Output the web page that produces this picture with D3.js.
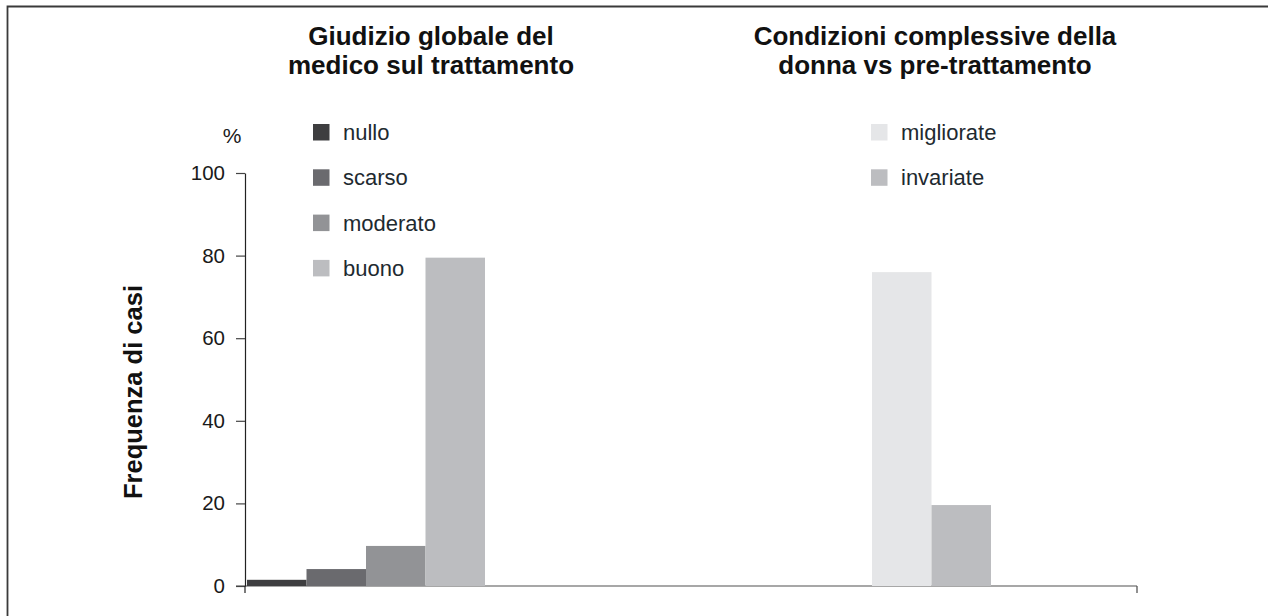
<!DOCTYPE html>
<html>
<head>
<meta charset="utf-8">
<script src="https://cdn.jsdelivr.net/npm/d3@7"></script>
<style>
  html, body { margin: 0; padding: 0; background: #fff; }
  svg { display: block; }
</style>
</head>
<body>
<svg id="chart"></svg>
<script>
// dati
const groups = ["Giudizio globale del medico sul trattamento", "Condizioni complessive della donna vs pre-trattamento"];
const titleLines = [["Giudizio globale del", "medico sul trattamento"], ["Condizioni complessive della", "donna vs pre-trattamento"]];
const giudizioLabels = ["nullo", "scarso", "moderato", "buono"];
const giudizioValues = [1.5, 4.1, 9.7, 79.5];
const condizioniLabels = ["migliorate", "invariate"];
const condizioniValues = [76, 19.6];
const yTicks = [0, 20, 40, 60, 80, 100];

const colors = {
    nullo: "#3e3e40", scarso: "#6a6a6e", moderato: "#929396", buono: "#bcbdc0",
    migliorate: "#e5e6e8", invariate: "#bcbdc0"
};

const width = 1268, height = 616;
const svg = d3.select("#chart").attr("width", width).attr("height", height)
    .style("font-family", "'Liberation Sans', Arial, Helvetica, sans-serif");

// cornice
svg.append("path").attr("d", `M7.5,${height} V6.5 H${width}`)
    .attr("fill", "none").attr("stroke", "#3a3a3a").attr("stroke-width", 1.8);

const y = d3.scaleLinear().domain([0, 100]).range([586, 173]);
const x0 = d3.scaleBand().domain(groups).range([245, 1137]);

// ogni gruppo ha la sua serie di barre
const series = [
    { labels: giudizioLabels, values: giudizioValues, offset: 2, legendX: 313 },
    { labels: condizioniLabels, values: condizioniValues, offset: 181, legendX: 871 }
];
const barW = 59.5;

// asse x (linea grigia)
svg.append("line").attr("x1", 236).attr("x2", x0.range()[1])
    .attr("y1", y(0)).attr("y2", y(0)).attr("stroke", "#8a8a8a").attr("stroke-width", 1.5);
svg.append("line").attr("x1", x0.range()[1]).attr("x2", x0.range()[1])
    .attr("y1", y(0)).attr("y2", y(0) + 7).attr("stroke", "#555").attr("stroke-width", 1.3);

series.forEach((s, gi) => {
    const g = groups[gi];
    const x1 = d3.scaleBand().domain(s.labels)
        .range([x0(g) + s.offset, x0(g) + s.offset + barW * s.labels.length]);
    svg.append("g").selectAll("rect").data(s.labels).join("rect")
        .attr("x", d => x1(d))
        .attr("y", (d, i) => y(s.values[i]))
        .attr("width", x1.bandwidth())
        .attr("height", (d, i) => y(0) - y(s.values[i]))
        .attr("fill", d => colors[d]);

    // legenda
    const leg = svg.append("g").selectAll("g").data(s.labels).join("g")
        .attr("transform", (d, i) => `translate(${s.legendX},${124 + i * 45.3})`);
    leg.append("rect").attr("width", 16.5).attr("height", 16.5).attr("fill", d => colors[d]);
    leg.append("text").attr("x", 30).attr("y", 16).text(d => d)
        .attr("font-size", 22).attr("fill", "#1e2a30");

    // titolo
    const cx = gi === 0 ? 431 : 935;
    svg.append("text").attr("text-anchor", "middle").attr("font-weight", "bold")
        .attr("font-size", 26).attr("fill", "#111")
        .selectAll("tspan").data(titleLines[gi]).join("tspan")
        .attr("x", cx).attr("y", (d, i) => 45 + i * 28.5).text(d => d);
});

// asse y
const yAxis = svg.append("g").attr("transform", "translate(245,0)")
    .call(d3.axisLeft(y).tickValues(yTicks).tickSize(9).tickSizeOuter(0).tickPadding(11));
yAxis.select(".domain").attr("stroke", "#222").attr("stroke-width", 1.2);
yAxis.selectAll(".tick line").attr("stroke", "#444").attr("stroke-width", 1.2);
yAxis.selectAll(".tick text").attr("font-size", 20.5).attr("fill", "#1a1a1a")
    .attr("font-family", "'Liberation Sans', Arial, Helvetica, sans-serif");
svg.append("line").attr("x1", 245).attr("x2", 245).attr("y1", y(0)).attr("y2", y(0) + 7)
    .attr("stroke", "#222").attr("stroke-width", 1.2);

svg.append("text").attr("x", 232).attr("y", 143).attr("text-anchor", "middle")
    .attr("font-size", 21).attr("fill", "#1a1a1a").text("%");

svg.append("text").attr("transform", "translate(142,392) rotate(-90)")
    .attr("text-anchor", "middle").attr("font-weight", "bold").attr("font-size", 25.5)
    .attr("fill", "#111").text("Frequenza di casi");
</script>
</body>
</html>
